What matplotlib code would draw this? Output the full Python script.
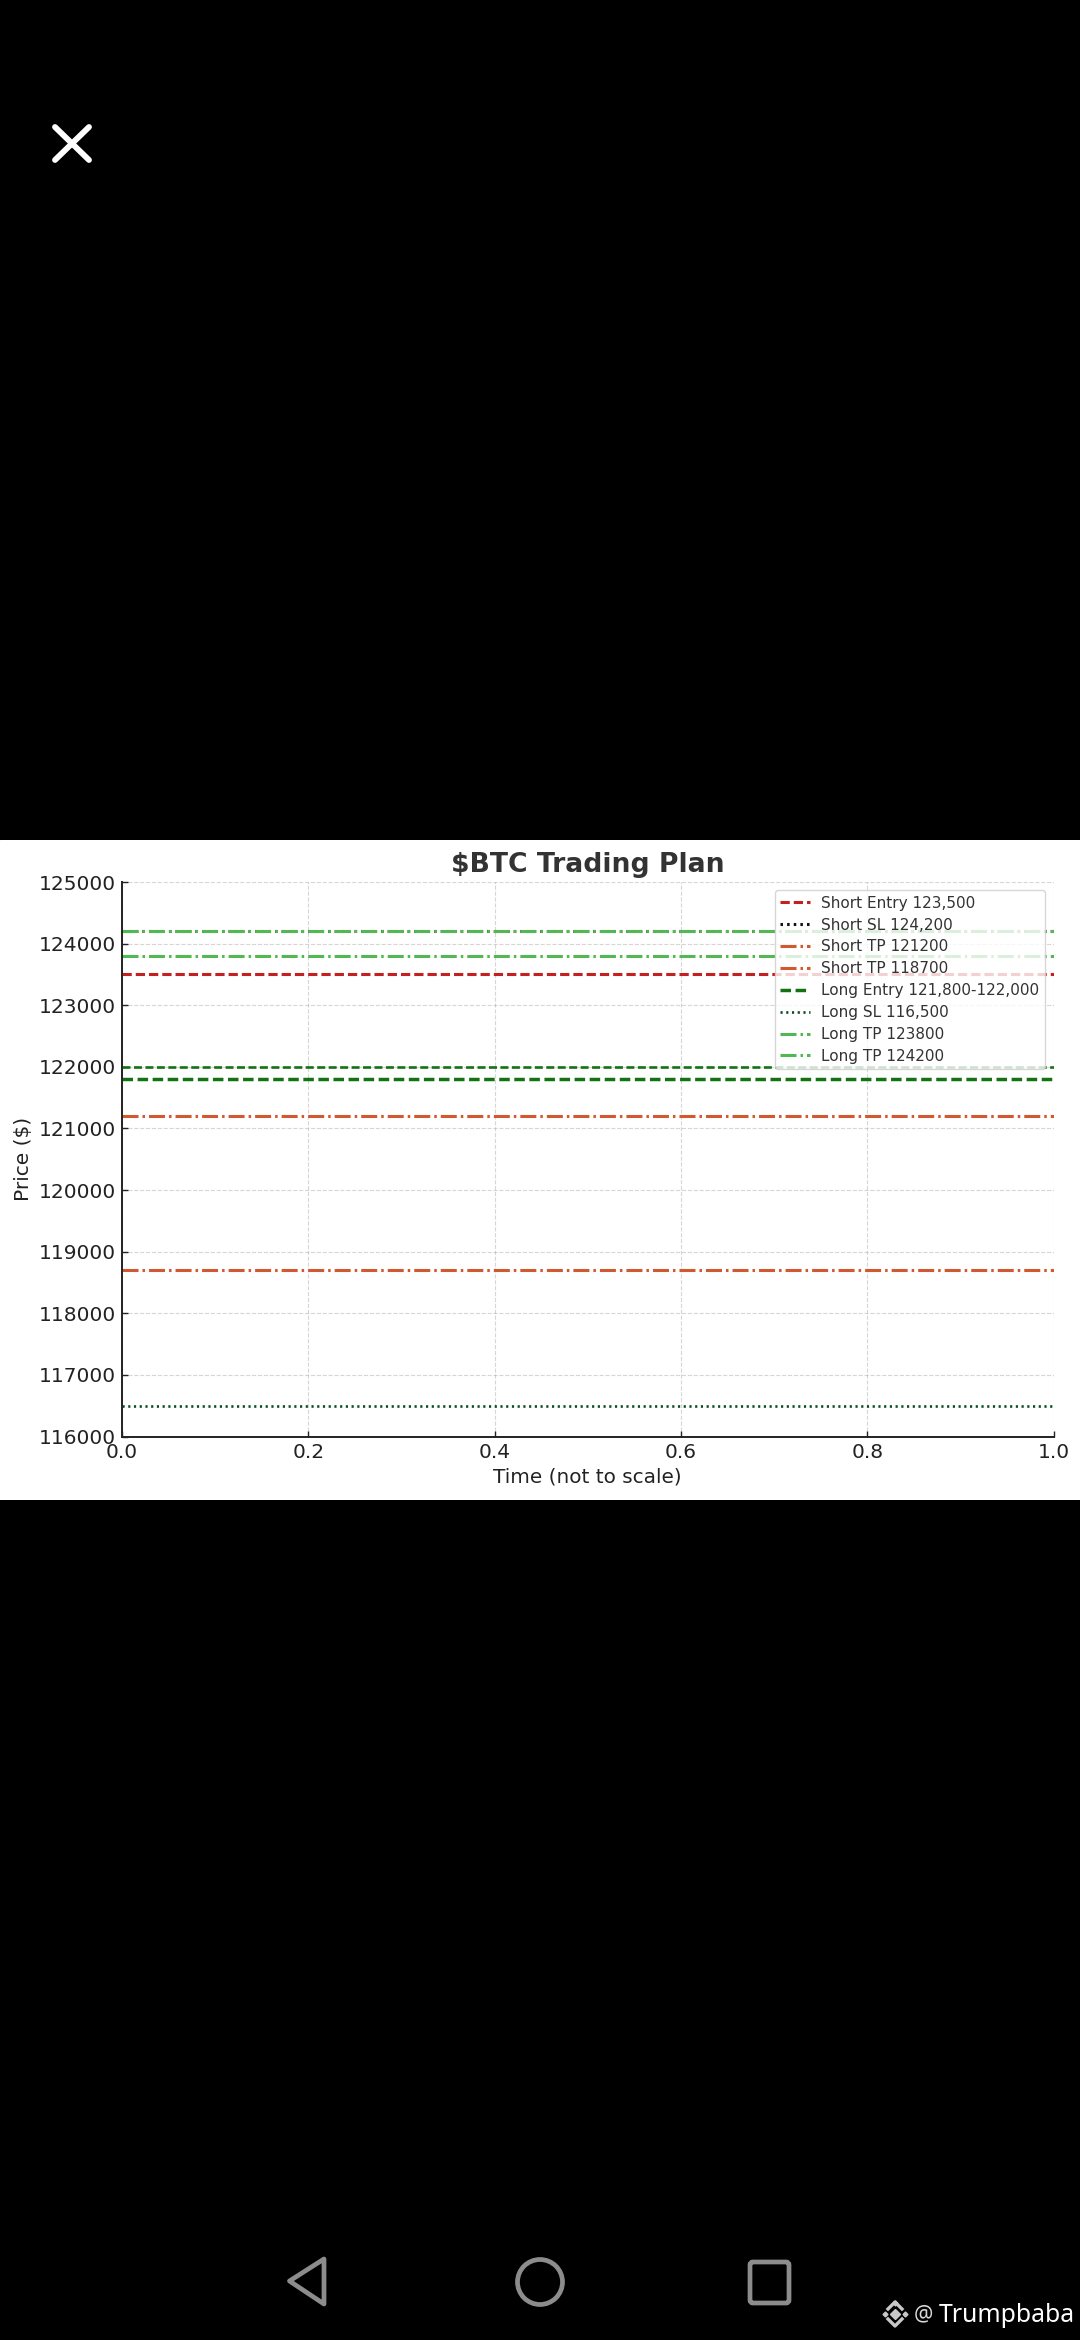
import matplotlib
matplotlib.use('Agg')
import matplotlib.pyplot as plt
from matplotlib.patches import Polygon, Circle, FancyBboxPatch

W, H = 1080, 2340

# price levels
short_entry = [123500]
short_sl = [124200]
short_tp = [121200, 118700]
long_entry = [122000, 121800]
long_sl = [116500]
long_tp = [123800, 124200]

short_labels = ['Short Entry 123,500', 'Short SL 124,200', 'Short TP 121200', 'Short TP 118700']
long_labels = ['Long Entry 121,800-122,000', 'Long SL 116,500', 'Long TP 123800', 'Long TP 124200']
x_ticks = [0.0, 0.2, 0.4, 0.6, 0.8, 1.0]
y_ticks = [116000, 117000, 118000, 119000, 120000, 121000, 122000, 123000, 124000, 125000]

RED = '#c4201f'
ORANGE = '#d2582f'
GREEN = '#52b852'
DARK = '#137313'
TEXT = '#222222'

# dash patterns scaled so the period stays as in the picture at this line width
DASHED = (0, (3.03, 1.31))
DASHDOT = (0, (5.24, 1.31, 0.82, 1.31))
DOTTED = (0, (0.82, 1.35))

fig = plt.figure(figsize=(W / 100, H / 100), dpi=100, facecolor='black')

# white screenshot band behind the chart
band = fig.add_axes([0, 1 - 1500 / H, 1, 660 / H], facecolor='white')
band.set_axis_off()
band.add_patch(plt.Rectangle((0, 0), 1, 1, color='white', transform=band.transAxes))

left, right, top, bottom = 122, 1053.5, 882, 1436.5
ax = fig.add_axes([left / W, 1 - bottom / H, (right - left) / W, (bottom - top) / H], facecolor='white')
ax.set_xlim(0, 1)
ax.set_ylim(116000, 125000)
ax.set_xticks(x_ticks)
ax.set_yticks(y_ticks)
ax.grid(True, linestyle='--', linewidth=0.8, color='#999999', alpha=0.4)
ax.set_axisbelow(True)
for s in ['top', 'right']:
    ax.spines[s].set_visible(False)
for s in ['left', 'bottom']:
    ax.spines[s].set_linewidth(1.4)
    ax.spines[s].set_color(TEXT)
ax.tick_params(direction='in', length=4, width=1, labelsize=14.5, colors=TEXT, pad=4.5)

lw = 2.2
ax.axhline(short_entry[0], color=RED, ls=DASHED, lw=lw, label=short_labels[0])
ax.axhline(short_sl[0], color='#111111', ls=DOTTED, lw=lw, label=short_labels[1])
ax.axhline(short_tp[0], color=ORANGE, ls=DASHDOT, lw=lw, label=short_labels[2])
ax.axhline(short_tp[1], color=ORANGE, ls=DASHDOT, lw=lw, label=short_labels[3])
ax.axhline(long_entry[0], color=DARK, ls=DASHED, lw=lw - 0.3)
ax.axhline(long_entry[1], color=DARK, ls=DASHED, lw=lw + 0.3, label=long_labels[0])
ax.axhline(long_sl[0], color='#0b4d1e', ls=DOTTED, lw=lw - 0.3, label=long_labels[1])
ax.axhline(long_tp[0], color=GREEN, ls=DASHDOT, lw=lw, label=long_labels[2])
ax.axhline(long_tp[1], color=GREEN, ls=DASHDOT, lw=lw, label=long_labels[3])

leg = ax.legend(loc='upper right', fontsize=11, labelcolor='#333333', framealpha=0.8,
                labelspacing=0.45, handletextpad=0.7, borderpad=0.35,
                bbox_to_anchor=(0.9905, 0.985), borderaxespad=0)
ax.set_title(r'\$BTC Trading Plan', fontsize=19.2, fontweight='bold', color='#333333', pad=7)
ax.set_xlabel('Time (not to scale)', fontsize=14.4, color=TEXT, labelpad=4)
ax.set_ylabel('Price (\\$)', fontsize=14.5, color=TEXT, labelpad=4)

# phone overlay, drawn in pixel coordinates
ov = fig.add_axes([0, 0, 1, 1], facecolor='none')
ov.set_xlim(0, W)
ov.set_ylim(H, 0)
ov.set_axis_off()

ov.plot([55, 89], [127, 160], color='white', lw=4.2, solid_capstyle='round')
ov.plot([89, 55], [127, 160], color='white', lw=4.2, solid_capstyle='round')

grey = '#8c8c8c'
ov.add_patch(Polygon([[289.5, 2281], [324, 2259], [324, 2304]], closed=True, fill=False,
                     edgecolor=grey, lw=3.4, joinstyle='round'))
ov.add_patch(Circle((540, 2282), 22.5, fill=False, edgecolor=grey, lw=3.4))
ov.add_patch(FancyBboxPatch((750, 2262), 39, 41, boxstyle='round,pad=0,rounding_size=3',
                            fill=False, edgecolor=grey, lw=3.4))

# watermark logo
logo = '#c8c8c8'
ov.plot([895], [2314], marker='D', ms=5, color=logo, ls='none')
ov.plot([885, 905, 895], [2314, 2314, 2303], ls='none', marker='D', ms=2.5, color=logo)
ov.plot([888, 895, 902], [2309, 2302, 2309], color=logo, lw=2.4)
ov.plot([888, 895, 902], [2319, 2326, 2319], color=logo, lw=2.4)
ov.text(914, 2315, '@', color='#d8d8d8', fontsize=15.5, family='Noto Sans', va='center', ha='left')
ov.text(939, 2315, 'Trumpbaba', color='white', fontsize=17.8, family='Noto Sans', va='center', ha='left')

fig.savefig('out.png', dpi=100, facecolor='black')
